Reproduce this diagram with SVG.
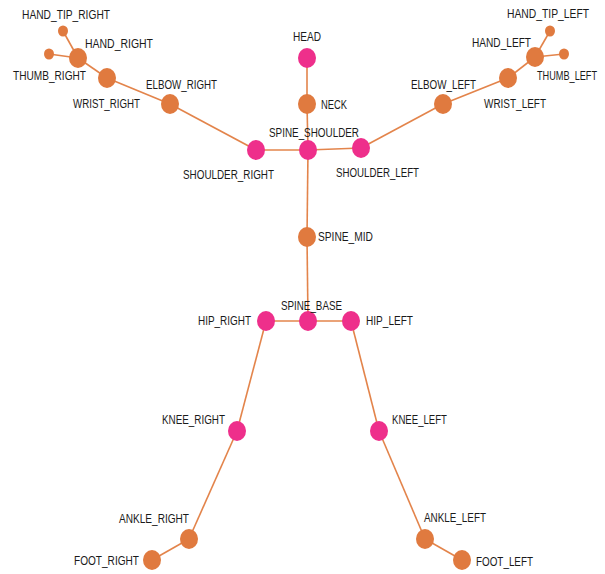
<svg xmlns="http://www.w3.org/2000/svg" width="605" height="574" viewBox="0 0 605 574">
  <style>
    .edge { stroke: #E3844B; stroke-width: 1.6; fill: none; }
    .j { fill: #E07A3F; }
    .c { fill: #EE2F8B; }
    text { font-family: "Liberation Sans", Arial, sans-serif; font-size: 12.5px; fill: #1a1a1a; }
  </style>
  <rect width="605" height="574" fill="#fff"/>

  <!-- bones -->
  <g id="connectors">
    <line class="edge" x1="307" y1="58" x2="307" y2="104"/>
    <line class="edge" x1="307" y1="104" x2="308" y2="150"/>
    <line class="edge" x1="308" y1="150" x2="307" y2="237"/>
    <line class="edge" x1="307" y1="237" x2="308" y2="321"/>
    <line class="edge" x1="308" y1="150" x2="256" y2="150"/>
    <line class="edge" x1="308" y1="150" x2="361" y2="148"/>
    <line class="edge" x1="256" y1="150" x2="170" y2="104"/>
    <line class="edge" x1="170" y1="104" x2="107" y2="78"/>
    <line class="edge" x1="107" y1="78" x2="78" y2="58"/>
    <line class="edge" x1="78" y1="58" x2="63" y2="31"/>
    <line class="edge" x1="78" y1="58" x2="49" y2="54"/>
    <line class="edge" x1="361" y1="148" x2="443" y2="104"/>
    <line class="edge" x1="443" y1="104" x2="508" y2="78"/>
    <line class="edge" x1="508" y1="78" x2="535" y2="57"/>
    <line class="edge" x1="535" y1="57" x2="550" y2="31"/>
    <line class="edge" x1="535" y1="57" x2="564" y2="54"/>
    <line class="edge" x1="308" y1="321" x2="266" y2="321"/>
    <line class="edge" x1="308" y1="321" x2="351" y2="321"/>
    <line class="edge" x1="266" y1="321" x2="237" y2="431"/>
    <line class="edge" x1="237" y1="431" x2="189" y2="539"/>
    <line class="edge" x1="189" y1="539" x2="152" y2="560"/>
    <line class="edge" x1="351" y1="321" x2="379" y2="431"/>
    <line class="edge" x1="379" y1="431" x2="425" y2="539"/>
    <line class="edge" x1="425" y1="539" x2="462" y2="560"/>
  </g>

  <!-- joints -->
  <g id="HEAD"><ellipse class="c" cx="307" cy="58" rx="9" ry="10"/><text x="293" y="41" textLength="28" lengthAdjust="spacingAndGlyphs">HEAD</text></g>
  <g id="NECK"><ellipse class="j" cx="307" cy="104" rx="9" ry="10"/><text x="321" y="109" textLength="26" lengthAdjust="spacingAndGlyphs">NECK</text></g>
  <g id="SPINE_SHOULDER"><ellipse class="c" cx="308" cy="150" rx="9" ry="10"/><text x="269" y="137" textLength="90" lengthAdjust="spacingAndGlyphs">SPINE_SHOULDER</text></g>
  <g id="SHOULDER_RIGHT"><ellipse class="c" cx="256" cy="150" rx="9" ry="10"/><text x="183" y="179" textLength="91" lengthAdjust="spacingAndGlyphs">SHOULDER_RIGHT</text></g>
  <g id="SHOULDER_LEFT"><ellipse class="c" cx="361" cy="148" rx="9" ry="10"/><text x="336" y="177" textLength="83" lengthAdjust="spacingAndGlyphs">SHOULDER_LEFT</text></g>
  <g id="ELBOW_RIGHT"><ellipse class="j" cx="170" cy="104" rx="9" ry="10"/><text x="146" y="89" textLength="71" lengthAdjust="spacingAndGlyphs">ELBOW_RIGHT</text></g>
  <g id="ELBOW_LEFT"><ellipse class="j" cx="443" cy="104" rx="9" ry="10"/><text x="411" y="89" textLength="65" lengthAdjust="spacingAndGlyphs">ELBOW_LEFT</text></g>
  <g id="WRIST_RIGHT"><ellipse class="j" cx="107" cy="78" rx="9" ry="10"/><text x="73" y="108" textLength="67" lengthAdjust="spacingAndGlyphs">WRIST_RIGHT</text></g>
  <g id="WRIST_LEFT"><ellipse class="j" cx="508" cy="78" rx="9" ry="10"/><text x="484" y="108" textLength="62" lengthAdjust="spacingAndGlyphs">WRIST_LEFT</text></g>
  <g id="HAND_RIGHT"><ellipse class="j" cx="78" cy="58" rx="9" ry="10"/><text x="85" y="48" textLength="68" lengthAdjust="spacingAndGlyphs">HAND_RIGHT</text></g>
  <g id="HAND_LEFT"><ellipse class="j" cx="535" cy="57" rx="9" ry="10"/><text x="472" y="47" textLength="59" lengthAdjust="spacingAndGlyphs">HAND_LEFT</text></g>
  <g id="HAND_TIP_RIGHT"><ellipse class="j" cx="63" cy="31" rx="5" ry="5.5"/><text x="22" y="19" textLength="88" lengthAdjust="spacingAndGlyphs">HAND_TIP_RIGHT</text></g>
  <g id="HAND_TIP_LEFT"><ellipse class="j" cx="550" cy="31" rx="5" ry="5.5"/><text x="507" y="18" textLength="82" lengthAdjust="spacingAndGlyphs">HAND_TIP_LEFT</text></g>
  <g id="THUMB_RIGHT"><ellipse class="j" cx="49" cy="54" rx="5" ry="5.5"/><text x="13" y="80" textLength="73" lengthAdjust="spacingAndGlyphs">THUMB_RIGHT</text></g>
  <g id="THUMB_LEFT"><ellipse class="j" cx="564" cy="54" rx="5" ry="5.5"/><text x="537" y="80" textLength="60" lengthAdjust="spacingAndGlyphs">THUMB_LEFT</text></g>
  <g id="SPINE_MID"><ellipse class="j" cx="307" cy="237" rx="9" ry="10"/><text x="318" y="241" textLength="55" lengthAdjust="spacingAndGlyphs">SPINE_MID</text></g>
  <g id="SPINE_BASE"><ellipse class="c" cx="308" cy="321" rx="9" ry="10"/><text x="281" y="310" textLength="61" lengthAdjust="spacingAndGlyphs">SPINE_BASE</text></g>
  <g id="HIP_RIGHT"><ellipse class="c" cx="266" cy="321" rx="9" ry="10"/><text x="198" y="325" textLength="53" lengthAdjust="spacingAndGlyphs">HIP_RIGHT</text></g>
  <g id="HIP_LEFT"><ellipse class="c" cx="351" cy="321" rx="9" ry="10"/><text x="366" y="325" textLength="47" lengthAdjust="spacingAndGlyphs">HIP_LEFT</text></g>
  <g id="KNEE_RIGHT"><ellipse class="c" cx="237" cy="431" rx="9" ry="10"/><text x="162" y="424" textLength="63" lengthAdjust="spacingAndGlyphs">KNEE_RIGHT</text></g>
  <g id="KNEE_LEFT"><ellipse class="c" cx="379" cy="431" rx="9" ry="10"/><text x="392" y="424" textLength="55" lengthAdjust="spacingAndGlyphs">KNEE_LEFT</text></g>
  <g id="ANKLE_RIGHT"><ellipse class="j" cx="189" cy="539" rx="9" ry="10"/><text x="119" y="523" textLength="70" lengthAdjust="spacingAndGlyphs">ANKLE_RIGHT</text></g>
  <g id="ANKLE_LEFT"><ellipse class="j" cx="425" cy="539" rx="9" ry="10"/><text x="424" y="522" textLength="62" lengthAdjust="spacingAndGlyphs">ANKLE_LEFT</text></g>
  <g id="FOOT_RIGHT"><ellipse class="j" cx="152" cy="560" rx="9" ry="10"/><text x="74" y="565" textLength="65" lengthAdjust="spacingAndGlyphs">FOOT_RIGHT</text></g>
  <g id="FOOT_LEFT"><ellipse class="j" cx="462" cy="560" rx="9" ry="10"/><text x="476" y="566" textLength="57" lengthAdjust="spacingAndGlyphs">FOOT_LEFT</text></g>
</svg>
